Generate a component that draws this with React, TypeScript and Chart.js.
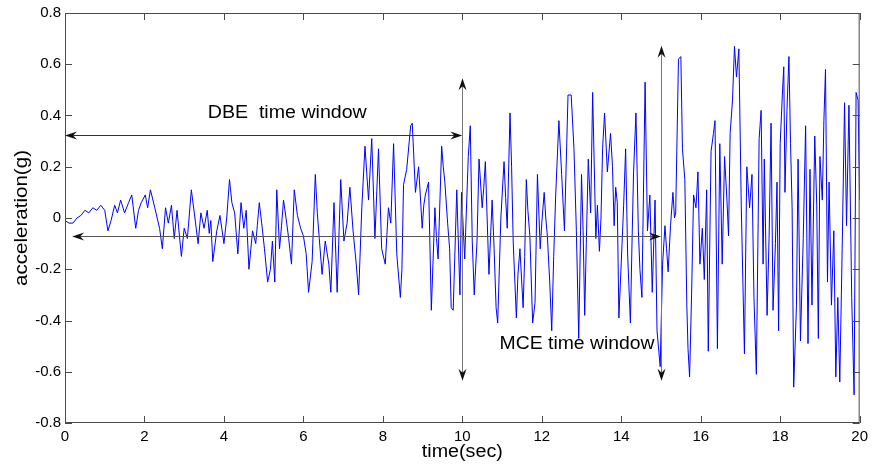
import React, { useEffect, useRef } from "react";
import { Chart, registerables } from "chart.js";

Chart.register(...registerables);

// Time axis (s) and ground acceleration (g).
// Each row covers one second; rows of the two arrays line up one to one.
const timeSec: number[] = [
  0, 0.1, 0.2, 0.3, 0.4, 0.5, 0.6, 0.7, 0.8, 0.9,
  1.0, 1.08, 1.16, 1.25, 1.32, 1.4, 1.5, 1.6, 1.68, 1.78, 1.85, 1.92,
  2.02, 2.08, 2.15, 2.26, 2.38, 2.45, 2.53, 2.6, 2.68, 2.75, 2.82, 2.93,
  3.0, 3.08, 3.18, 3.27, 3.35, 3.42, 3.5, 3.58, 3.63, 3.67, 3.72, 3.82, 3.9,
  4.0, 4.07, 4.14, 4.2, 4.27, 4.35, 4.43, 4.5, 4.56, 4.63, 4.72, 4.8, 4.84, 4.89, 4.95,
  5.02, 5.1, 5.17, 5.22, 5.28, 5.33, 5.4, 5.45, 5.5, 5.58, 5.63, 5.7, 5.77, 5.85, 5.93,
  6.0, 6.07, 6.13, 6.22, 6.3, 6.35, 6.4, 6.47, 6.55, 6.64, 6.69, 6.77, 6.85, 6.94,
  7.02, 7.1, 7.17, 7.25, 7.33, 7.39, 7.47, 7.55, 7.64, 7.72, 7.8, 7.89, 7.97,
  8.06, 8.14, 8.2, 8.27, 8.35, 8.44, 8.48, 8.52, 8.6, 8.7, 8.74, 8.82, 8.9, 8.99,
  9.03, 9.07, 9.15, 9.22, 9.31, 9.35, 9.39, 9.48, 9.52, 9.56, 9.63, 9.68, 9.72, 9.77, 9.86, 9.94, 9.98,
  10.06, 10.1, 10.15, 10.2, 10.25, 10.3, 10.37, 10.42, 10.5, 10.54, 10.58, 10.62, 10.67, 10.75, 10.8, 10.85, 10.89, 10.97,
  11.02, 11.05, 11.09, 11.13, 11.2, 11.24, 11.28, 11.36, 11.4, 11.45, 11.53, 11.57, 11.61, 11.65, 11.7, 11.77, 11.83, 11.89, 11.96,
  12.0, 12.06, 12.1, 12.14, 12.2, 12.25, 12.3, 12.35, 12.43, 12.5, 12.57, 12.66, 12.74, 12.81, 12.87, 12.93,
  13.0, 13.04, 13.08, 13.12, 13.17, 13.23, 13.28, 13.36, 13.4, 13.45, 13.49, 13.53, 13.58, 13.65, 13.73, 13.78, 13.82, 13.86, 13.9, 13.94,
  14.02, 14.06, 14.11, 14.16, 14.23, 14.27, 14.31, 14.37, 14.43, 14.47, 14.52, 14.6, 14.66, 14.72, 14.78, 14.85, 14.9, 14.98,
  15.04, 15.1, 15.14, 15.18, 15.24, 15.3, 15.34, 15.37, 15.44, 15.5, 15.54, 15.6, 15.65, 15.68, 15.72, 15.77, 15.82, 15.88, 15.93, 15.98,
  16.04, 16.09, 16.15, 16.19, 16.26, 16.32, 16.36, 16.42, 16.48, 16.54, 16.6, 16.66, 16.7, 16.74, 16.8, 16.85, 16.9, 16.96,
  17.02, 17.1, 17.16, 17.23, 17.29, 17.34, 17.4, 17.47, 17.52, 17.57, 17.6, 17.67, 17.72, 17.77, 17.82, 17.88, 17.92, 17.96,
  18.0, 18.06, 18.09, 18.12, 18.17, 18.22, 18.26, 18.3, 18.34, 18.41, 18.45, 18.51, 18.58, 18.64, 18.7, 18.75, 18.8, 18.87, 18.92, 18.96,
  19.0, 19.06, 19.1, 19.14, 19.19, 19.23, 19.29, 19.35, 19.4, 19.45, 19.5, 19.56, 19.62, 19.67, 19.73, 19.8, 19.86, 19.91, 19.96, 20.0,
];

const accelG: number[] = [
  -0.01, -0.02, -0.02, 0.0, 0.01, 0.03, 0.02, 0.04, 0.03, 0.05,
  0.03, -0.05, -0.01, 0.05, 0.02, 0.07, 0.02, 0.06, 0.09, -0.04, 0.03, 0.06,
  0.09, 0.04, 0.11, 0.04, -0.04, -0.12, 0.04, -0.02, 0.05, -0.08, 0.03, -0.15,
  -0.04, -0.08, 0.11, 0.0, -0.1, 0.02, -0.04, 0.03, -0.06, -0.01, -0.17, -0.05, 0.01,
  -0.1, 0.0, 0.15, 0.06, 0.02, -0.14, 0.06, -0.04, 0.03, -0.2, -0.05, -0.1, -0.03, 0.06, -0.02,
  -0.12, -0.25, -0.2, -0.09, -0.25, 0.11, -0.12, -0.03, 0.07, -0.02, -0.08, -0.18, 0.11, 0.01, -0.04,
  -0.07, -0.14, -0.29, -0.17, 0.17, 0.02, -0.08, -0.22, -0.09, -0.18, -0.29, 0.06, -0.29, 0.15,
  -0.09, -0.02, 0.12, -0.05, -0.18, -0.3, 0.04, 0.28, 0.07, 0.31, -0.08, 0.27, -0.12,
  -0.18, 0.04, -0.02, 0.29, -0.14, -0.31, -0.2, 0.13, 0.19, 0.36, 0.37, 0.1, 0.2, -0.04,
  0.05, 0.09, 0.14, -0.36, 0.04, -0.08, -0.16, 0.28, 0.2, 0.14, -0.02, -0.12, -0.35, -0.36, 0.11, -0.3, 0.1,
  -0.16, 0.02, 0.24, 0.36, -0.09, -0.3, -0.09, 0.23, 0.04, 0.12, 0.22, 0.02, -0.22, 0.07, -0.12, -0.35, -0.41, 0.0,
  0.14, 0.22, 0.08, -0.04, 0.41, 0.2, -0.09, -0.39, -0.22, -0.12, -0.35, -0.15, 0.15, 0.03, -0.07, -0.41, -0.33, 0.17, -0.12,
  -0.02, 0.1, 0.0, -0.07, -0.25, -0.44, -0.15, 0.09, 0.38, 0.17, -0.05, 0.48, 0.48, 0.27, -0.05, -0.47,
  0.17, -0.05, -0.38, -0.1, 0.23, 0.02, 0.49, -0.08, 0.05, -0.13, 0.0, 0.27, 0.41, 0.18, 0.33, 0.2, -0.03, 0.12, 0.06, -0.39,
  -0.1, 0.05, 0.27, -0.14, -0.41, -0.1, 0.18, 0.41, -0.05, -0.2, -0.31, 0.53, -0.05, 0.09, -0.29, 0.07, -0.44, -0.58,
  -0.18, -0.03, -0.12, -0.21, -0.03, 0.1, 0.0, 0.02, 0.62, 0.63, 0.27, 0.15, -0.34, -0.51, -0.62, -0.3, 0.09, 0.04, 0.18, -0.18,
  -0.04, -0.24, 0.11, -0.52, 0.26, 0.33, 0.38, -0.51, 0.29, -0.18, 0.24, 0.07, -0.07, 0.33, 0.46, 0.67, 0.55, 0.66,
  0.05, -0.53, 0.2, 0.04, 0.17, -0.31, -0.61, 0.31, 0.42, -0.18, 0.23, -0.38, -0.08, 0.37, -0.36, -0.1, 0.14, -0.44,
  0.29, 0.5, 0.59, 0.1, 0.42, 0.63, 0.29, 0.04, -0.66, -0.34, 0.23, -0.48, -0.08, 0.36, -0.49, 0.19, -0.34, 0.32, 0.05, -0.47,
  0.24, 0.07, 0.38, 0.58, -0.25, 0.14, -0.34, -0.05, -0.62, -0.31, -0.64, -0.12, 0.45, -0.03, 0.44, -0.31, -0.69, 0.49, 0.46, 0.07,
];

const xTickValues: number[] = [0, 2, 4, 6, 8, 10, 12, 14, 16, 18, 20];
const yTickValues: number[] = [-0.8, -0.6, -0.4, -0.2, 0, 0.2, 0.4, 0.6, 0.8];
const xTitle = "time(sec)";
const yTitle = "acceleration(g)";
const dbeLabel = "DBE  time window";
const mceLabel = "MCE time window";

function arrowHead(ctx: CanvasRenderingContext2D, tx: number, ty: number, dx: number, dy: number) {
  const L = 12, W = 4, N = 8;
  const px = -dy, py = dx;
  const bx = tx - dx * L, by = ty - dy * L;
  ctx.beginPath();
  ctx.moveTo(tx, ty);
  ctx.lineTo(bx + px * W, by + py * W);
  ctx.lineTo(tx - dx * N, ty - dy * N);
  ctx.lineTo(bx - px * W, by - py * W);
  ctx.closePath();
  ctx.fill();
}

function fittedText(ctx: CanvasRenderingContext2D, text: string, x: number, y: number, targetW: number, font: string, rotate = false) {
  ctx.save();
  ctx.font = font;
  const w = ctx.measureText(text).width;
  ctx.translate(x, y);
  if (rotate) ctx.rotate(-Math.PI / 2);
  ctx.scale(targetW / w, 1);
  ctx.textAlign = "center";
  ctx.textBaseline = "middle";
  ctx.fillStyle = "#000";
  ctx.fillText(text, 0, 0);
  ctx.restore();
}

export default function App() {
  const ref = useRef<HTMLCanvasElement>(null);

  useEffect(() => {
    const canvas = ref.current;
    if (!canvas) return;
    const points = timeSec.map((t, i) => ({ x: t, y: accelG[i] }));

    const overlay = {
      id: "overlay",
      afterDraw(chart: any) {
        const ctx: CanvasRenderingContext2D = chart.ctx;
        const xs = chart.scales.x;
        const ys = chart.scales.y;
        const { left, right, top, bottom } = chart.chartArea;
        ctx.save();
        ctx.strokeStyle = "#4a4a4a";
        ctx.lineWidth = 1;
        ctx.strokeRect(left + 0.5, top + 0.5, right - left - 1, bottom - top - 1);
        ctx.beginPath();
        xTickValues.forEach((v) => {
          const px = Math.round(xs.getPixelForValue(v)) + 0.5;
          ctx.moveTo(px, bottom);
          ctx.lineTo(px, bottom - 7);
          ctx.moveTo(px, top);
          ctx.lineTo(px, top + 7);
        });
        yTickValues.forEach((v) => {
          const py = Math.round(ys.getPixelForValue(v)) + 0.5;
          ctx.moveTo(left, py);
          ctx.lineTo(left + 7, py);
          ctx.moveTo(right, py);
          ctx.lineTo(right - 7, py);
        });
        ctx.stroke();

        const hy1 = Math.round(ys.getPixelForValue(0.325)) + 0.5;
        const x0 = xs.getPixelForValue(0);
        const x10 = xs.getPixelForValue(10);
        const x15 = xs.getPixelForValue(15);
        ctx.strokeStyle = "#333";
        ctx.fillStyle = "#111";
        ctx.beginPath();
        ctx.moveTo(x0 + 4, hy1);
        ctx.lineTo(x10 - 4, hy1);
        ctx.stroke();
        arrowHead(ctx, x0, hy1, -1, 0);
        arrowHead(ctx, x10, hy1, 1, 0);

        const hy2 = Math.round(ys.getPixelForValue(-0.07)) + 0.5;
        const xm0 = xs.getPixelForValue(0.18);
        ctx.strokeStyle = "#555";
        ctx.beginPath();
        ctx.moveTo(xm0 + 4, hy2);
        ctx.lineTo(x15 - 4, hy2);
        ctx.stroke();
        arrowHead(ctx, xm0, hy2, -1, 0);
        arrowHead(ctx, x15, hy2, 1, 0);

        ctx.strokeStyle = "#777";
        const vx1 = Math.round(x10) + 0.5;
        const vt1 = ys.getPixelForValue(0.545);
        const vb = ys.getPixelForValue(-0.635);
        ctx.beginPath();
        ctx.moveTo(vx1, vt1 + 4);
        ctx.lineTo(vx1, vb - 4);
        ctx.stroke();
        arrowHead(ctx, vx1, vt1, 0, -1);
        arrowHead(ctx, vx1, vb, 0, 1);

        const vx2 = Math.round(x15) + 0.5;
        const vt2 = ys.getPixelForValue(0.672);
        ctx.beginPath();
        ctx.moveTo(vx2, vt2 + 4);
        ctx.lineTo(vx2, vb - 4);
        ctx.stroke();
        arrowHead(ctx, vx2, vt2, 0, -1);
        arrowHead(ctx, vx2, vb, 0, 1);

        const font = "18px 'Liberation Sans', Arial, sans-serif";
        fittedText(ctx, dbeLabel, xs.getPixelForValue(3.58) + 80, ys.getPixelForValue(0.41), 159, font);
        fittedText(ctx, mceLabel, xs.getPixelForValue(10.95) + 77, ys.getPixelForValue(-0.49), 155, font);

        fittedText(ctx, xTitle, (left + right) / 2, 452, 81, font);
        fittedText(ctx, yTitle, 22, (top + bottom) / 2, 136, font, true);
        ctx.restore();
      },
    };

    const chart = new Chart(canvas, {
      type: "line",
      data: {
        datasets: [
          {
            data: points,
            borderColor: "#0000ff",
            borderWidth: 1,
            pointRadius: 0,
            tension: 0,
            fill: false,
          },
        ],
      },
      options: {
        animation: false,
        responsive: false,
        maintainAspectRatio: false,
        layout: { padding: { left: 0, right: 10, top: 10, bottom: 0 } },
        plugins: { legend: { display: false }, tooltip: { enabled: false } },
        scales: {
          x: {
            type: "linear",
            min: 0,
            max: 20,
            afterFit(s: any) {
              s.height = 43;
            },
            afterBuildTicks(s: any) {
              s.ticks = xTickValues.map((v) => ({ value: v }));
            },
            grid: { display: false, drawTicks: false },
            border: { display: false },
            ticks: {
              padding: 5,
              color: "#000",
              maxRotation: 0,
              font: { family: "'Liberation Sans', Arial, sans-serif", size: 15 },
              callback: (v: any) => String(v),
            },
          },
          y: {
            type: "linear",
            min: -0.8,
            max: 0.8,
            afterFit(s: any) {
              s.width = 65;
            },
            afterBuildTicks(s: any) {
              s.ticks = yTickValues.map((v) => ({ value: v }));
            },
            grid: { display: false, drawTicks: false },
            border: { display: false },
            ticks: {
              padding: 4,
              color: "#000",
              font: { family: "'Liberation Sans', Arial, sans-serif", size: 15 },
              callback: (v: any) => {
                const r = Math.round(Number(v) * 10) / 10;
                return r === 0 ? "0" : String(r);
              },
            },
          },
        },
      },
      plugins: [overlay],
    });
    return () => chart.destroy();
  }, []);

  return (
    <div style={{ position: "fixed", left: 0, top: 0, width: 873, height: 466, background: "#fff" }}>
      <canvas ref={ref} width={873} height={466} style={{ width: 873, height: 466, display: "block" }} />
    </div>
  );
}
